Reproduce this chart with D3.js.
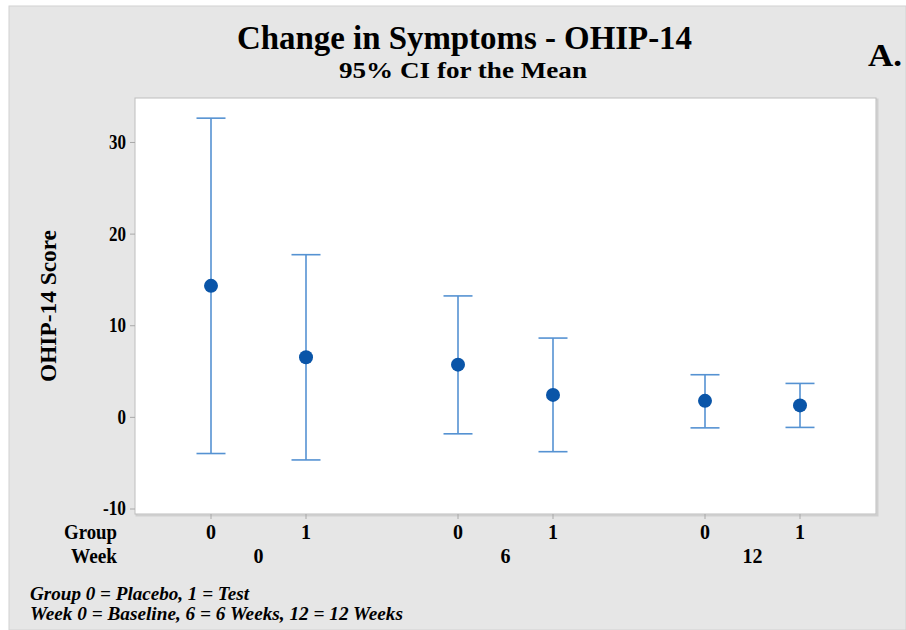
<!DOCTYPE html>
<html>
<head>
<meta charset="utf-8">
<script src="https://cdn.jsdelivr.net/npm/d3@7"></script>
<style>
  html, body { margin: 0; padding: 0; background: #ffffff; }
  svg { display: block; }
  text { font-family: "Liberation Serif", "Times New Roman", serif; fill: #000; }
</style>
</head>
<body>
<svg id="chart" width="906" height="630"></svg>
<script>
// Interval plot data: mean with 95% CI, by week and group
const weeks = ["0", "6", "12"];
const groups = ["0", "1"];
const means = [14.3, 6.5, 5.7, 2.4, 1.75, 1.25];
const lower = [-4.0, -4.7, -1.85, -3.8, -1.2, -1.15];
const upper = [32.6, 17.7, 13.2, 8.6, 4.6, 3.65];
const yTicks = [-10, 0, 10, 20, 30];

const rows = [];
weeks.forEach((w, wi) => groups.forEach((g, gi) => {
  const i = wi * groups.length + gi;
  rows.push({ week: w, group: g, mean: means[i], lo: lower[i], hi: upper[i] });
}));

const svg = d3.select("#chart");
const W = 906, H = 630;
const plot = { left: 135, right: 876, top: 98, bottom: 514 };

// Panel background
svg.append("rect").attr("x", 9).attr("y", 6).attr("width", W - 9).attr("height", H - 6)
  .attr("fill", "#e6e6e6").attr("stroke", "#d2d2d2").attr("stroke-width", 1);

// Scales
const y = d3.scaleLinear().domain([-10.6, 34.8]).range([plot.bottom, plot.top]);
const xWeek = d3.scaleBand().domain(weeks).range([plot.left, plot.right]).padding(0);
const xGroup = d3.scalePoint().domain(groups).range([0, xWeek.bandwidth()]).padding(0.8);
const xPos = d => xWeek(d.week) + xGroup(d.group);

// Plot frame with a soft shadow on the right/bottom
svg.append("rect").attr("x", plot.left + 1.5).attr("y", plot.top + 1.5)
  .attr("width", plot.right - plot.left).attr("height", plot.bottom - plot.top)
  .attr("fill", "none").attr("stroke", "#cfcfcf").attr("stroke-width", 2);
svg.append("rect").attr("x", plot.left).attr("y", plot.top)
  .attr("width", plot.right - plot.left).attr("height", plot.bottom - plot.top)
  .attr("fill", "#ffffff").attr("stroke", "#bdbdbd").attr("stroke-width", 1);

// Y axis
const yAxis = svg.append("g").attr("transform", `translate(${plot.left},0)`)
  .call(d3.axisLeft(y).tickValues(yTicks).tickSize(5).tickPadding(4).tickFormat(d => String(d)));
yAxis.select(".domain").remove();
yAxis.selectAll(".tick line").attr("stroke", "#a8a8a8");
yAxis.selectAll(".tick text")
  .style("font-family", "'Liberation Serif', serif").style("font-weight", "bold")
  .style("font-size", "20px").attr("fill", "#000")
  .attr("textLength", d => String(d).length * 8.5 - (d < 0 ? 2.5 : 0))
  .attr("lengthAdjust", "spacingAndGlyphs");

// X ticks (one per group within week)
svg.append("g").selectAll("line").data(rows).join("line")
  .attr("x1", xPos).attr("x2", xPos)
  .attr("y1", plot.bottom).attr("y2", plot.bottom + 5)
  .attr("stroke", "#a8a8a8");

// Category labels
const lblStyle = sel => sel.style("font-weight", "bold").style("font-size", "20px");
svg.append("text").attr("x", 117).attr("y", 539).attr("text-anchor", "end")
  .attr("textLength", 53).attr("lengthAdjust", "spacingAndGlyphs").text("Group").call(lblStyle);
svg.append("text").attr("x", 117).attr("y", 563).attr("text-anchor", "end")
  .attr("textLength", 46).attr("lengthAdjust", "spacingAndGlyphs").text("Week").call(lblStyle);
svg.append("g").selectAll("text").data(rows).join("text")
  .attr("x", xPos).attr("y", 539).attr("text-anchor", "middle")
  .text(d => d.group).call(lblStyle);
svg.append("g").selectAll("text").data(weeks).join("text")
  .attr("x", w => xWeek(w) + xWeek.bandwidth() / 2).attr("y", 563).attr("text-anchor", "middle")
  .text(w => w).call(lblStyle);

// Error bars
const barColor = "#5592d2";
const cap = 14.5;
const eb = svg.append("g").attr("stroke", barColor).attr("stroke-width", 1.6);
eb.selectAll("line.v").data(rows).join("line").attr("class", "v")
  .attr("x1", xPos).attr("x2", xPos).attr("y1", d => y(d.lo)).attr("y2", d => y(d.hi));
eb.selectAll("line.t").data(rows).join("line").attr("class", "t")
  .attr("x1", d => xPos(d) - cap).attr("x2", d => xPos(d) + cap)
  .attr("y1", d => y(d.hi)).attr("y2", d => y(d.hi));
eb.selectAll("line.b").data(rows).join("line").attr("class", "b")
  .attr("x1", d => xPos(d) - cap).attr("x2", d => xPos(d) + cap)
  .attr("y1", d => y(d.lo)).attr("y2", d => y(d.lo));

// Means
svg.append("g").selectAll("circle").data(rows).join("circle")
  .attr("cx", xPos).attr("cy", d => y(d.mean)).attr("r", 7)
  .attr("fill", "#0a55a8");

// Titles
svg.append("text").attr("x", 464.5).attr("y", 49).attr("text-anchor", "middle")
  .style("font-weight", "bold").style("font-size", "34px")
  .attr("textLength", 455).attr("lengthAdjust", "spacingAndGlyphs")
  .text("Change in Symptoms - OHIP-14");
svg.append("text").attr("x", 463).attr("y", 78).attr("text-anchor", "middle")
  .style("font-weight", "bold").style("font-size", "24px")
  .attr("textLength", 248).attr("lengthAdjust", "spacingAndGlyphs")
  .text("95% CI for the Mean");
svg.append("text").attr("x", 868).attr("y", 66)
  .style("font-weight", "bold").style("font-size", "32px")
  .attr("textLength", 34).attr("lengthAdjust", "spacingAndGlyphs")
  .text("A.");

// Y axis title
svg.append("text").attr("transform", "translate(56,306) rotate(-90)").attr("text-anchor", "middle")
  .style("font-weight", "bold").style("font-size", "23px")
  .attr("textLength", 152).attr("lengthAdjust", "spacingAndGlyphs")
  .text("OHIP-14 Score");

// Footnotes
const noteStyle = sel => sel.style("font-weight", "bold").style("font-style", "italic").style("font-size", "19px")
  .attr("lengthAdjust", "spacingAndGlyphs");
svg.append("text").attr("x", 30).attr("y", 600).attr("textLength", 219)
  .text("Group 0 = Placebo, 1 = Test").call(noteStyle);
svg.append("text").attr("x", 30).attr("y", 620).attr("textLength", 373)
  .text("Week 0 = Baseline, 6 = 6 Weeks, 12 = 12 Weeks").call(noteStyle);
</script>
</body>
</html>
